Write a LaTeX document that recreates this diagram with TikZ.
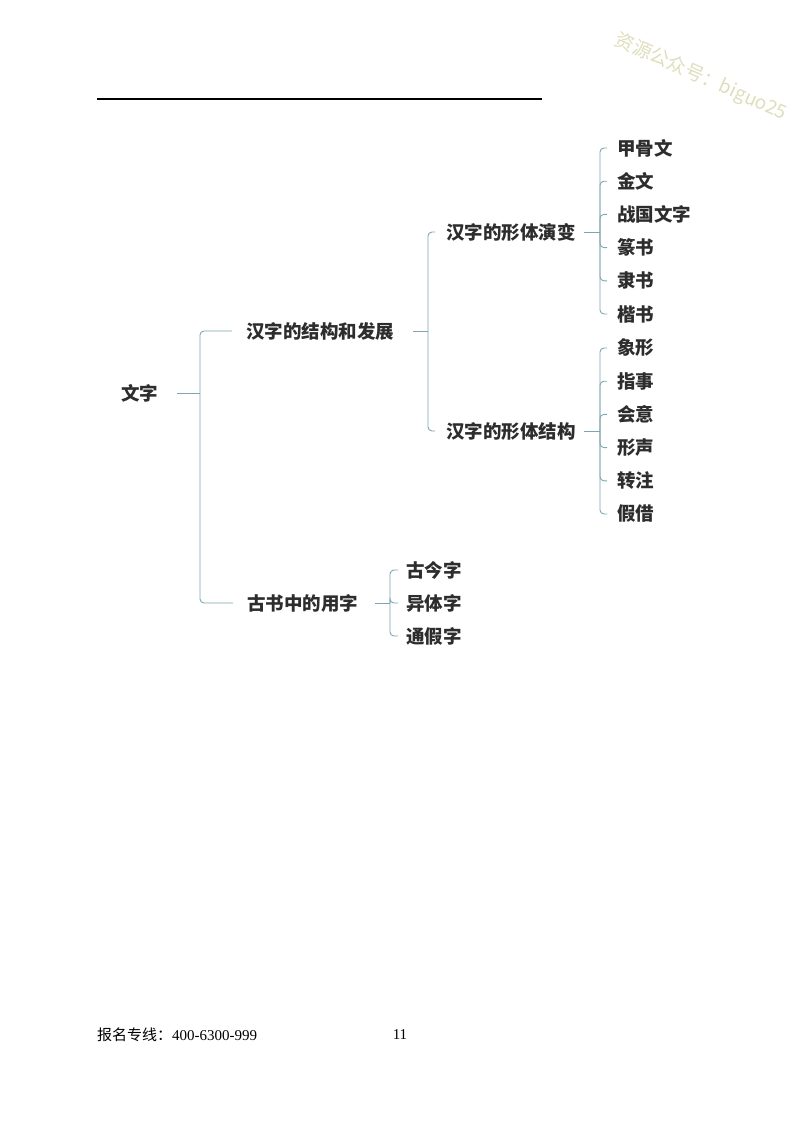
\documentclass[tikz,border=0pt]{standalone}
\usepackage{fontspec}
\setmainfont{Liberation Serif}
\newfontfamily\cjk{Noto Sans CJK SC}

\definecolor{linecol}{RGB}{125,165,180}
\definecolor{textcol}{RGB}{45,45,45}
\definecolor{markcol}{RGB}{222,222,188}

\tikzset{
	branch/.style={draw=linecol, line width=0.9pt, rounded corners=4pt},
	topic/.style={font=\cjk\bfseries\fontsize{18.5}{20}\selectfont, text=textcol, anchor=west, inner sep=0pt},
}

\begin{document}
\begin{tikzpicture}[x=1pt, y=-1pt]
	\useasboundingbox (0, 0) rectangle (800, 1124);

	% watermark and page rule
	\node [rotate=-24, text=markcol, font=\cjk\fontsize{19}{20}\selectfont] (mark) at (701, 77) {资源公众号：biguo25};
	\draw [line width=1.1pt] (97, 99) -- (542, 99);

	% root and first level
	\node [topic] (root) at (121, 393) {文字};
	\node [topic] (dev) at (246, 331) {汉字的结构和发展};
	\node [topic] (use) at (247, 603) {古书中的用字};
	\coordinate (rootfork) at (200, 393);
	\draw [branch, shorten <=19pt] (root.east) -- (rootfork);
	\draw [branch, shorten >=14pt] (rootfork) |- (dev.west);
	\draw [branch, shorten >=14pt] (rootfork) |- (use.west);

	% second level
	\node [topic] (evo) at (446, 232) {汉字的形体演变};
	\node [topic] (form) at (446, 431) {汉字的形体结构};
	\coordinate (devfork) at (428, 331);
	\draw [branch, shorten <=19pt] (dev.east) -- (devfork);
	\draw [branch, shorten >=11pt] (devfork) |- (evo.west);
	\draw [branch, shorten >=11pt] (devfork) |- (form.west);

	% leaves
	\coordinate (evofork) at (600, 232);
	\coordinate (formfork) at (600, 431);
	\coordinate (usefork) at (390, 603);
	\draw [branch, shorten <=8pt] (evo.east) -- (evofork);
	\draw [branch, shorten <=8pt] (form.east) -- (formfork);
	\draw [branch, shorten <=17pt] (use.east) -- (usefork);

	\foreach \t [count=\i] in {甲骨文, 金文, 战国文字, 篆书, 隶书, 楷书} {
		\node [topic] (evo\i) at (617, {148 + 33.2*(\i - 1)}) {\t};
		\draw [branch, shorten >=10pt] (evofork) |- (evo\i.west);
	}
	\foreach \t [count=\i] in {象形, 指事, 会意, 形声, 转注, 假借} {
		\node [topic] (form\i) at (617, {348 + 33.2*(\i - 1)}) {\t};
		\draw [branch, shorten >=10pt] (formfork) |- (form\i.west);
	}
	\foreach \t [count=\i] in {古今字, 异体字, 通假字} {
		\node [topic] (use\i) at (406, {570 + 33*(\i - 1)}) {\t};
		\draw [branch, shorten >=8pt] (usefork) |- (use\i.west);
	}

	% footer
	\node [anchor=west, inner sep=0pt, font=\fontsize{15}{17}\selectfont] (hotline) at (97, 1035) {{\cjk 报名专线：}400-6300-999};
	\node [inner sep=0pt, font=\fontsize{15}{17}\selectfont] (pageno) at (400, 1035) {11};
\end{tikzpicture}
\end{document}
